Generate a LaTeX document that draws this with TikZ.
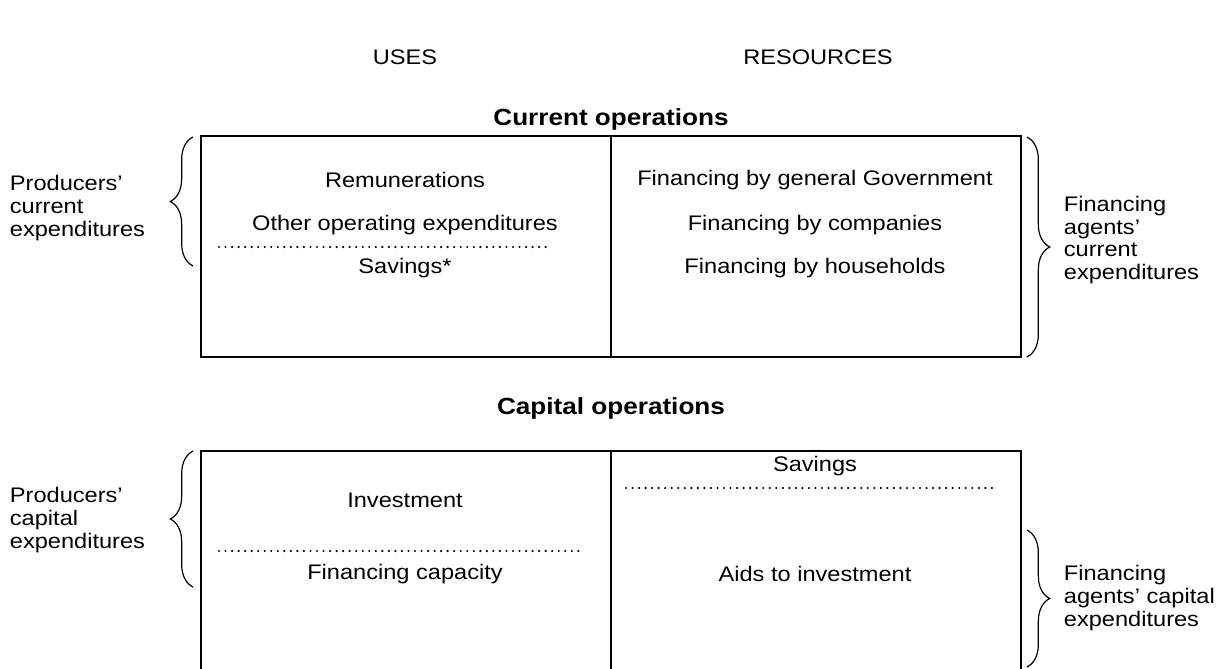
\documentclass[tikz,border=0pt]{standalone}
\usepackage{fontspec}
\setmainfont{Liberation Sans}[FakeStretch=1.12]
\usetikzlibrary{positioning}
\usetikzlibrary{decorations.pathreplacing}

\begin{document}
\begin{tikzpicture}
  [
    x=0.75pt, y=-0.75pt,
    every node/.style={font=\fontsize{15.8}{17}\selectfont},
    align=center
  ]
      \tikzset{
        boxline/.style = {line width=1.5pt},
        tablebox/.style = {rectangle, draw=black, boxline, minimum width=615pt, inner sep=0pt},
        dotline/.style = {line width=1.8pt, line cap=round, dash pattern=on 0pt off 4.9pt},
        bracestyle/.style = {decorate, decoration={brace, amplitude=17pt}, line width=0.9pt},
        headstyle/.style = {font=\fontsize{17.5}{20}\selectfont\bfseries},
        sidestyle/.style = {align=left, anchor=west, inner sep=2pt},
    }
    \clip (0,0) rectangle (1221,668);

    \node (uses) at (405,57) {USES};
    \node (res) at (818,57) {RESOURCES};

    % current operations
    \node (curhead) [headstyle] at (611,119) {Current operations};
    \node (curbox) [tablebox, minimum height=166pt] at (611,246.5) {};
    \draw[boxline] (curbox.north) -- (curbox.south);

    \node (remun) at (405,180) {Remunerations};
    \node (otherop) at (405,225) {Other operating expenditures};
    \node (savstar) at (405,268) {Savings*};
    \node (fingov) at (815,180) {Financing by general Government};
    \node (fincomp) at (815,225) {Financing by companies};
    \node (finhh) at (815,268) {Financing by households};
    \draw[dotline] (219,247) -- (552,247);

    \node (prodcur) [sidestyle] at (7,208) {Producers’\\current\\expenditures};
    \node (fincur) [sidestyle] at (1061,240) {Financing\\agents’\\current\\expenditures};
    \draw[bracestyle] (193,266) -- (193,137);
    \draw[bracestyle] (1027,137) -- (1027,357);

    % capital operations
    \node (caphead) [headstyle] at (611,408) {Capital operations};
    \node (capbox) [tablebox, minimum height=179pt] at (611,570.5) {};
    \draw[boxline] (capbox.north) -- (capbox.south);

    \node (invest) at (405,500) {Investment};
    \node (fincap) at (405,574) {Financing capacity};
    \node (savings) at (815,466) {Savings};
    \node (aids) at (815,574) {Aids to investment};
    \draw[dotline] (219,551) -- (580,551);
    \draw[dotline] (626,488) -- (995,488);

    \node (prodcap) [sidestyle] at (7,520) {Producers’\\capital\\expenditures};
    \node (fincapx) [sidestyle] at (1061,598) {Financing\\agents’ capital\\expenditures};
    \draw[bracestyle] (193,587) -- (193,451);
    \draw[bracestyle] (1027,530) -- (1027,667);
\end{tikzpicture}
\end{document}
